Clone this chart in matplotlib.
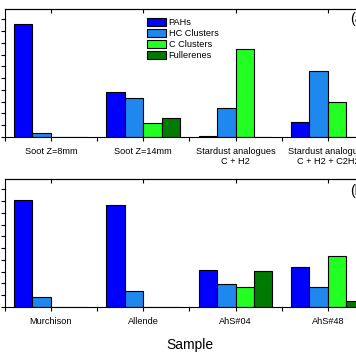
import matplotlib
matplotlib.use("Agg")
import matplotlib.pyplot as plt
import numpy as np
from matplotlib.patches import Patch
from matplotlib.ticker import MultipleLocator, FixedLocator

plt.rcParams['font.family'] = ['Liberation Sans', 'DejaVu Sans']

series = ["PAHs", "HC Clusters", "C Clusters", "Fullerenes"]
colors = ["#0000FF", "#1E88EE", "#22FF22", "#007A00"]

top_categories = ["Soot Z=8mm", "Soot Z=14mm", "Stardust analogues\nC + H2", "Stardust analogues\nC + H2 + C2H2"]
top_values = {
    "PAHs":        [48.1, 19.2, 0.3, 6.5],
    "HC Clusters": [1.6, 16.4, 12.2, 28.2],
    "C Clusters":  [0.0, 5.8, 37.4, 14.7],
    "Fullerenes":  [0.0, 8.1, 0.0, 0.0],
}

bottom_categories = ["Murchison", "Allende", "AhS#04", "AhS#48"]
bottom_values = {
    "PAHs":        [45.5, 43.2, 15.7, 17.0],
    "HC Clusters": [4.4, 6.7, 9.9, 8.4],
    "C Clusters":  [0.0, 0.0, 8.4, 21.5],
    "Fullerenes":  [0.0, 0.0, 15.2, 2.4],
}

W, H = 356, 364
fig = plt.figure(figsize=(W / 100, H / 100), dpi=100)

left = 4.8 / W
width = (374 - 4.8) / W
ax1 = fig.add_axes([left, (H - 137) / H, width, 128 / H])
ax2 = fig.add_axes([left, (H - 307) / H, width, 128 / H])

bw = 0.2
offsets = [-0.3, -0.1, 0.1, 0.3]


def draw(ax, cats, vals):
    x = np.arange(1, len(cats) + 1)
    for s, c, off in zip(series, colors, offsets):
        ax.bar(x + off, vals[s], width=bw, color=c, edgecolor="black", linewidth=0.8)
    ax.set_xlim(0.5, 4.5)
    ax.set_ylim(0, 54.4)
    ax.set_xticks(x)
    ax.set_xticklabels(cats, fontsize=6.6, linespacing=1.1)
    ax.xaxis.set_minor_locator(FixedLocator(np.arange(0.5, 4.6, 1.0)))
    ax.tick_params(axis="x", which="both", direction="out", length=3, width=0.8, pad=4.5, top=False)
    ax.yaxis.set_major_locator(MultipleLocator(5))
    ax.tick_params(axis="y", which="both", direction="out", length=3, width=0.8, labelleft=False, right=False)
    for sp in ax.spines.values():
        sp.set_linewidth(0.8)
    sec = ax.secondary_xaxis("top")
    sec.set_xticks(x)
    sec.tick_params(direction="in", length=3, width=0.8, labeltop=False)
    sec.spines["top"].set_linewidth(0.8)


draw(ax1, top_categories, top_values)
draw(ax2, bottom_categories, bottom_values)

ax2.set_xlabel("Sample", fontsize=10, labelpad=8)

handles = [Patch(facecolor=c, edgecolor="black", linewidth=0.8) for c in colors]
fig.legend(handles, series, loc="upper left",
           bbox_to_anchor=(146.7 / W, 1 - 18.0 / H), bbox_transform=fig.transFigure,
           frameon=False, fontsize=6.6, handlelength=2.15, handleheight=0.95,
           labelspacing=0.22, handletextpad=0.25, borderpad=0, borderaxespad=0)

fig.text(350 / W, 1 - 19 / H, "(a)", fontsize=10, ha="left", va="center")
fig.text(350 / W, 1 - 191 / H, "(b)", fontsize=10, ha="left", va="center")

fig.savefig("out.png", dpi=100)
